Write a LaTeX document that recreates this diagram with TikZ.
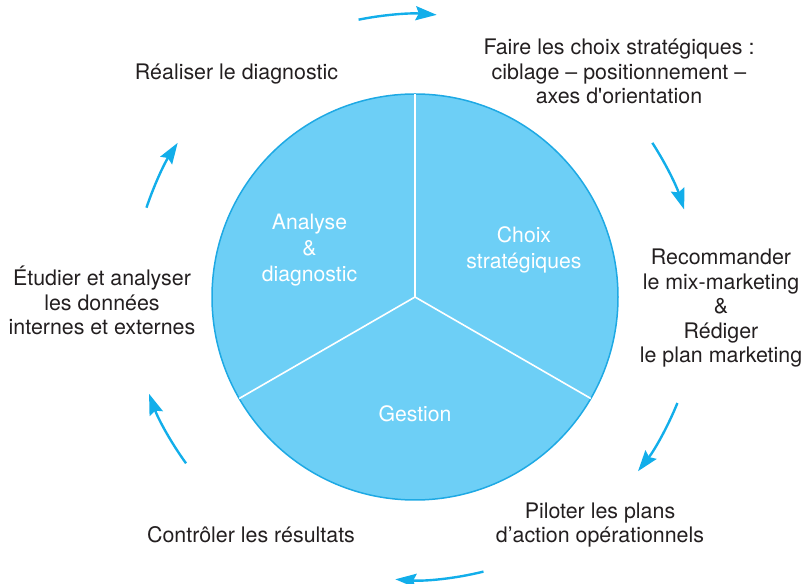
\documentclass[tikz,border=0pt]{standalone}
\usepackage{fontspec}
\setmainfont{TeX Gyre Heros}
\usetikzlibrary{arrows.meta,calc}
\definecolor{disc}{HTML}{6DCFF6}
\definecolor{discline}{HTML}{1EA9E4}
\definecolor{arrowc}{HTML}{12AEEA}
\definecolor{txt}{HTML}{231F20}
\tikzset{
  lbl/.style={anchor=base, align=center, inner sep=0pt, text=txt,
    font=\fontsize{21.4}{24.5}\selectfont},
  inlbl/.style={anchor=base, align=center, inner sep=0pt, text=white,
    font=\fontsize{21.2}{26}\selectfont},
  cyc/.style={draw=arrowc, line width=2.4pt,
    -{Stealth[length=21pt, width=14pt, inset=3pt]}},
  sep/.style={draw=white, line width=1.6pt}
}
\begin{document}
\begin{tikzpicture}[x=1pt,y=1pt]
\useasboundingbox (0,0) rectangle (804,584);
% disc
\coordinate (O) at (415,287);
\node[circle, minimum size=406pt, inner sep=0pt, fill=disc, draw=discline, line width=1.5pt] (disc) at (O) {};
\coordinate (s1) at ($(O)+(90:203)$);
\coordinate (s2) at ($(O)+(210:203)$);
\coordinate (s3) at ($(O)+(330:203)$);
\draw[sep] (O) -- (s1);
\draw[sep] (O) -- (s2);
\draw[sep] (O) -- (s3);
% labels inside (anchor = baseline of last line)
\node[inlbl] (ana) at (309.5,302) {Analyse\\\&\\diagnostic};
\node[inlbl] (cho) at (524,315) {Choix\\stratégiques};
\node[inlbl] (ges) at (415,162) {Gestion};
% outer texts
\node[lbl] (t1) at (236.5,504) {Réaliser le diagnostic};
\node[lbl] (t2) at (619,480) {Faire les choix stratégiques :\\ciblage – positionnement –\\axes d\textquotesingle orientation};
\node[lbl] (t3) at (721,221) {Recommander\\le mix-marketing\\\&\\Rédiger\\le plan marketing};
\node[lbl] (t4) at (600,41) {Piloter les plans\\d’action opérationnels};
\node[lbl] (t5) at (251,41) {Contrôler les résultats};
\node[lbl] (t6) at (102,249) {Étudier et analyser\\les données\\internes et externes};
% cycle arrows
\coordinate (a1) at ($(O)+(101.5:283)$);
\coordinate (a2) at ($(O)+(33:283)$);
\coordinate (a3) at ($(O)+(-22:283)$);
\coordinate (a4) at ($(O)+(-76:283)$);
\coordinate (a5) at ($(O)+(216:283)$);
\coordinate (a6) at ($(O)+(161.6:283)$);
\draw[cyc] (a1) arc[start angle=101.5, end angle=85.6, radius=283];
\draw[cyc] (a2) arc[start angle=33, end angle=18, radius=283];
\draw[cyc] (a3) arc[start angle=-22, end angle=-38, radius=283];
\draw[cyc] (a4) arc[start angle=-76, end angle=-94, radius=283];
\draw[cyc] (a5) arc[start angle=216, end angle=200, radius=283];
\draw[cyc] (a6) arc[start angle=161.6, end angle=147, radius=283];
\end{tikzpicture}
\end{document}
